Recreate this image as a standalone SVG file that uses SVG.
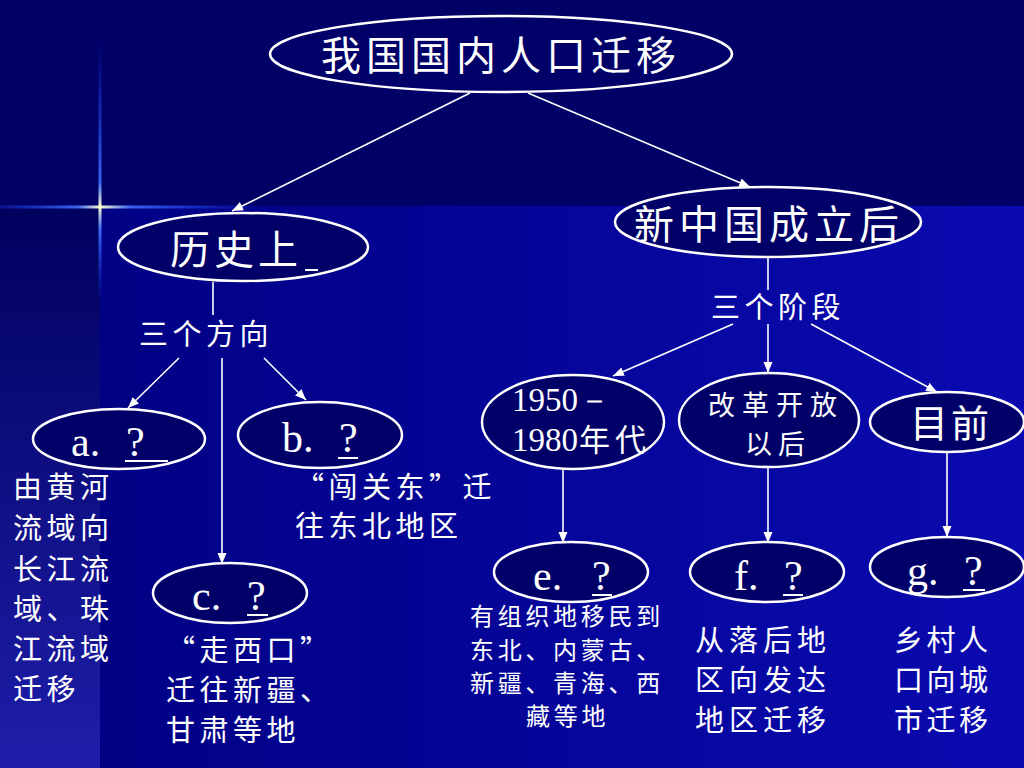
<svg xmlns="http://www.w3.org/2000/svg" width="1024" height="768" viewBox="0 0 1024 768">
<defs>
<linearGradient id="bgMain" x1="0" y1="0" x2="1" y2="0">
<stop offset="0" stop-color="#000080"/>
<stop offset="1" stop-color="#0a0ab0"/>
</linearGradient>
<linearGradient id="bgLeft" x1="0" y1="0" x2="0" y2="1">
<stop offset="0" stop-color="#00005e"/>
<stop offset="1" stop-color="#1e1eaa"/>
</linearGradient>
<linearGradient id="sparkV" x1="0" y1="40" x2="0" y2="300" gradientUnits="userSpaceOnUse">
<stop offset="0" stop-color="#2040ff" stop-opacity="0"/>
<stop offset="0.55" stop-color="#4070ff" stop-opacity="0.9"/>
<stop offset="0.64" stop-color="#ffffcc"/>
<stop offset="0.73" stop-color="#4070ff" stop-opacity="0.9"/>
<stop offset="1" stop-color="#2040ff" stop-opacity="0"/>
</linearGradient>
<linearGradient id="sparkH" x1="0" y1="0" x2="260" y2="0" gradientUnits="userSpaceOnUse">
<stop offset="0" stop-color="#2040ff" stop-opacity="0.3"/>
<stop offset="0.3" stop-color="#4070ff" stop-opacity="0.9"/>
<stop offset="0.385" stop-color="#ffffcc"/>
<stop offset="0.5" stop-color="#4070ff" stop-opacity="0.9"/>
<stop offset="1" stop-color="#2040ff" stop-opacity="0"/>
</linearGradient>
<marker id="arr" markerUnits="userSpaceOnUse" markerWidth="12" markerHeight="10" refX="11" refY="5" orient="auto">
<path d="M0,0.5 L11,5 L0,9.5 z" fill="#ffffff"/>
</marker>
<style>
.node ellipse{fill:#000068;stroke:#ffffff;stroke-width:2.5}
.cjk{font-family:"Noto Sans CJK SC","Noto Sans",sans-serif;fill:#ffffff}
.big{font-size:40px;letter-spacing:5px}
.mid{font-size:29px;letter-spacing:4.5px}
.small{font-size:24px;letter-spacing:3.7px}
.lat{font-family:"Liberation Serif",serif;fill:#ffffff;font-size:42px}
.ul{stroke:#ffffff;stroke-width:2}
#connectors line{stroke:#ffffff;stroke-width:1.6}
</style>
</defs>
<g id="background">
<rect x="0" y="0" width="1024" height="768" fill="url(#bgMain)"/>
<rect x="0" y="205" width="100" height="563" fill="url(#bgLeft)"/>
<rect x="0" y="0" width="1024" height="206" fill="#000066"/>
<rect x="98.5" y="40" width="3" height="260" fill="url(#sparkV)"/>
<rect x="0" y="205.5" width="260" height="3" fill="url(#sparkH)"/>
</g>
<g id="connectors">
<line x1="470" y1="93" x2="232" y2="211" marker-end="url(#arr)"/>
<line x1="528" y1="93" x2="750" y2="187" marker-end="url(#arr)"/>
<line x1="213" y1="282" x2="213" y2="315"/>
<line x1="179" y1="358" x2="128" y2="408" marker-end="url(#arr)"/>
<line x1="222" y1="358" x2="222" y2="564" marker-end="url(#arr)"/>
<line x1="264" y1="358" x2="306" y2="400" marker-end="url(#arr)"/>
<line x1="768" y1="257" x2="768" y2="290"/>
<line x1="733" y1="324" x2="613" y2="376" marker-end="url(#arr)"/>
<line x1="768" y1="324" x2="768" y2="373" marker-end="url(#arr)"/>
<line x1="811" y1="324" x2="937" y2="392" marker-end="url(#arr)"/>
<line x1="563" y1="470" x2="563" y2="543" marker-end="url(#arr)"/>
<line x1="768" y1="467" x2="768" y2="543" marker-end="url(#arr)"/>
<line x1="947" y1="452" x2="947" y2="537" marker-end="url(#arr)"/>
</g>
<g id="node-root" class="node">
<ellipse cx="501" cy="54" rx="231" ry="38"/>
<text class="cjk big" x="321" y="70">我国国内人口迁移</text>
</g>
<g id="node-history" class="node">
<ellipse cx="243" cy="247" rx="125" ry="34"/>
<text class="cjk big" x="170" y="264" style="letter-spacing:4px">历史上</text>
<line class="ul" x1="305" y1="270" x2="318" y2="270"/>
</g>
<g id="label-directions">
<text class="cjk mid" x="139" y="345">三个方向</text>
</g>
<g id="node-a" class="node">
<ellipse cx="119" cy="439" rx="86" ry="30"/>
<text class="lat" x="71" y="456">a.</text>
<text class="lat" x="126" y="456">?</text>
<line class="ul" x1="125" y1="461" x2="168" y2="461"/>
</g>
<g id="node-b" class="node">
<ellipse cx="320" cy="435" rx="82" ry="33"/>
<text class="lat" x="282" y="452">b.</text>
<text class="lat" x="339" y="452">?</text>
<line class="ul" x1="338" y1="458" x2="358" y2="458"/>
</g>
<g id="node-c" class="node">
<ellipse cx="230" cy="593" rx="77" ry="30"/>
<text class="lat" x="192" y="610">c.</text>
<text class="lat" x="247" y="610">?</text>
<line class="ul" x1="247" y1="615" x2="268" y2="615"/>
</g>
<g id="desc-a">
<text class="cjk mid" x="13" y="498">由黄河</text>
<text class="cjk mid" x="13" y="539">流域向</text>
<text class="cjk mid" x="13" y="580">长江流</text>
<text class="cjk mid" x="13" y="620">域、珠</text>
<text class="cjk mid" x="13" y="660">江流域</text>
<text class="cjk mid" x="13" y="700">迁移</text>
</g>
<g id="desc-b">
<text class="cjk mid" x="295" y="498">“闯关东”迁</text>
<text class="cjk mid" x="295" y="537">往东北地区</text>
</g>
<g id="desc-c">
<text class="cjk mid" x="166" y="661">“走西口”</text>
<text class="cjk mid" x="166" y="701">迁往新疆、</text>
<text class="cjk mid" x="166" y="741">甘肃等地</text>
</g>
<g id="node-new" class="node">
<ellipse cx="768" cy="222" rx="153" ry="35"/>
<text class="cjk big" x="634" y="239">新中国成立后</text>
</g>
<g id="label-stages">
<text class="cjk mid" x="711" y="318">三个阶段</text>
</g>
<g id="node-1950" class="node">
<ellipse cx="573" cy="422" rx="91" ry="47"/>
<text class="lat" x="512" y="411" style="font-size:33px">1950－</text>
<text class="lat" x="512" y="451" style="font-size:33px">1980<tspan class="cjk" dx="1" style="font-size:31px;letter-spacing:5px">年代</tspan></text>
</g>
<g id="node-reform" class="node">
<ellipse cx="769" cy="420" rx="90" ry="47"/>
<text class="cjk" x="708" y="415" style="font-size:27px;letter-spacing:7px">改革开放</text>
<text class="cjk" x="745" y="454" style="font-size:27px;letter-spacing:6px">以后</text>
</g>
<g id="node-now" class="node">
<ellipse cx="947" cy="422" rx="77" ry="30"/>
<text class="cjk" x="910" y="437" style="font-size:38px;letter-spacing:3px">目前</text>
</g>
<g id="node-e" class="node">
<ellipse cx="571" cy="572" rx="77" ry="30"/>
<text class="lat" x="533" y="590">e.</text>
<text class="lat" x="592" y="590">?</text>
<line class="ul" x1="592" y1="595" x2="612" y2="595"/>
</g>
<g id="node-f" class="node">
<ellipse cx="767" cy="572" rx="77" ry="30"/>
<text class="lat" x="734" y="590">f.</text>
<text class="lat" x="784" y="590">?</text>
<line class="ul" x1="783" y1="595" x2="803" y2="595"/>
</g>
<g id="node-g" class="node">
<ellipse cx="947" cy="567" rx="77" ry="30"/>
<text class="lat" x="907" y="585">g.</text>
<text class="lat" x="964" y="585">?</text>
<line class="ul" x1="963" y1="590" x2="985" y2="590"/>
</g>
<g id="desc-e">
<text class="cjk small" x="470" y="625">有组织地移民到</text>
<text class="cjk small" x="470" y="659">东北、内蒙古、</text>
<text class="cjk small" x="470" y="692">新疆、青海、西</text>
<text class="cjk small" x="526" y="725">藏等地</text>
</g>
<g id="desc-f">
<text class="cjk mid" x="695" y="651" style="letter-spacing:5px">从落后地</text>
<text class="cjk mid" x="695" y="691" style="letter-spacing:5px">区向发达</text>
<text class="cjk mid" x="695" y="731" style="letter-spacing:5px">地区迁移</text>
</g>
<g id="desc-g">
<text class="cjk mid" x="894" y="651" style="letter-spacing:3.5px">乡村人</text>
<text class="cjk mid" x="894" y="691" style="letter-spacing:3.5px">口向城</text>
<text class="cjk mid" x="894" y="731" style="letter-spacing:3.5px">市迁移</text>
</g>
</svg>
